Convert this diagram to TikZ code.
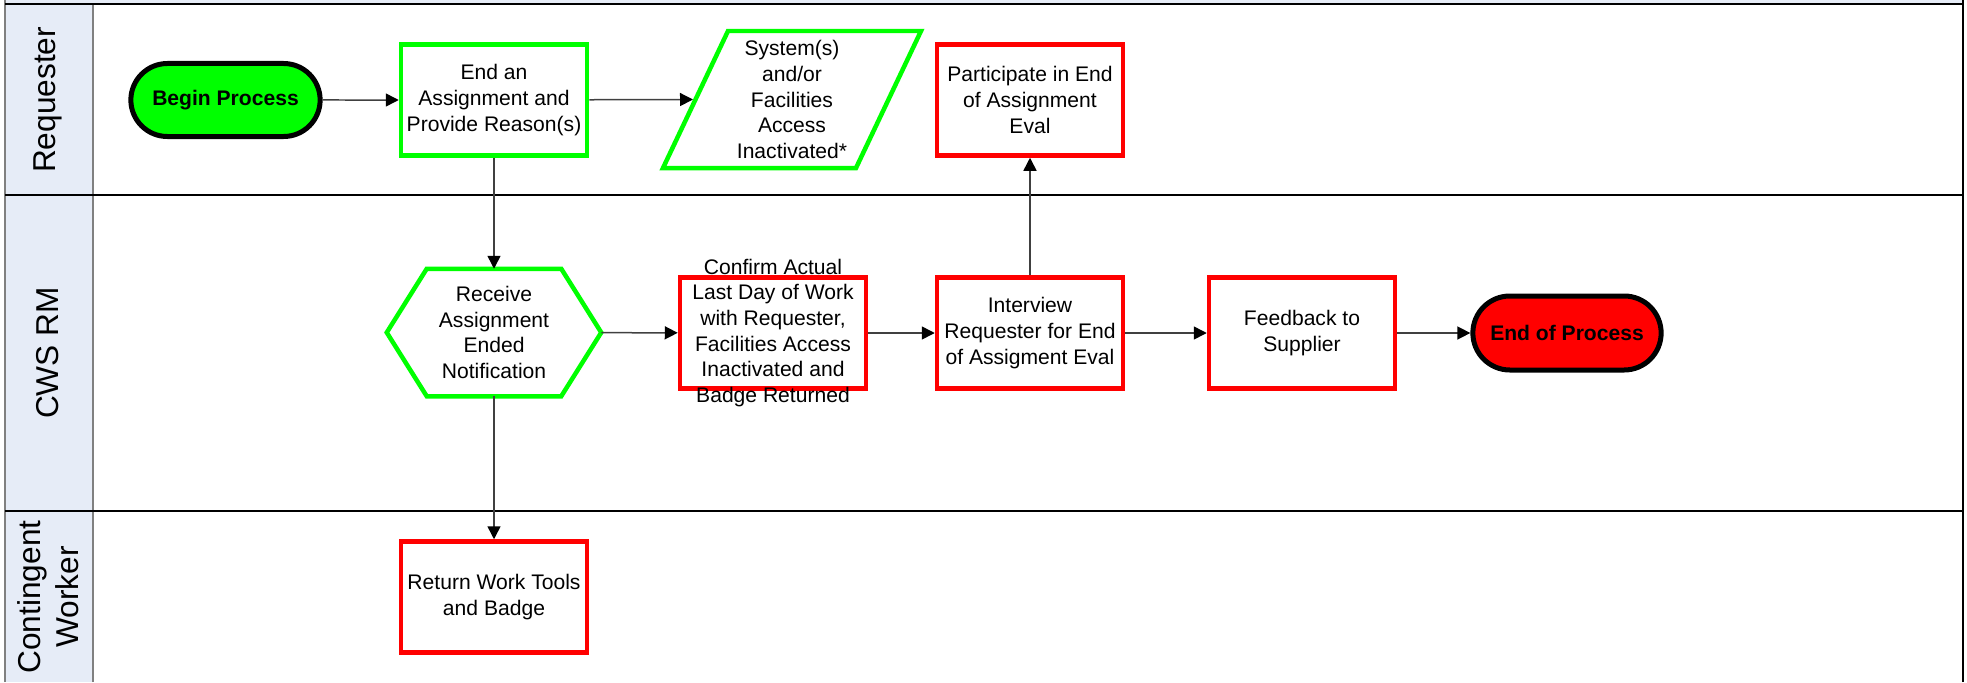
\documentclass[tikz,border=0pt]{standalone}
\usepackage{fontspec}
\setmainfont{Liberation Sans}
\usetikzlibrary{arrows.meta,shapes.misc}

\definecolor{lanefill}{HTML}{E6ECF7}
\definecolor{okgreen}{HTML}{00FF00}
\definecolor{stopred}{HTML}{FF0000}

\begin{document}
\begin{tikzpicture}[
    font=\fontsize{12}{14.6}\selectfont,
    flow/.style={line width=0.03cm, color=black!75, -{Triangle[length=0.26cm, width=0.26cm, black]}},
    greenbox/.style={rectangle, draw=okgreen, line width=0.09cm, fill=white,
      minimum width=3.72cm, minimum height=2.22cm, align=center, inner sep=1pt},
    redbox/.style={greenbox, draw=stopred},
    terminal/.style={rounded rectangle, draw=black, line width=0.1cm,
      minimum width=4.02cm, minimum height=1.46cm, font=\fontsize{12}{14.6}\selectfont\bfseries},
    shapetext/.style={rectangle, align=center, inner sep=0pt, outer sep=0.045cm},
    lanelabel/.style={rotate=90, align=center, font=\fontsize{18}{21.6}\selectfont}
  ]
  \useasboundingbox (0,0) rectangle (39.34,13.64);

  % lanes
  \fill[lanefill] (0.1,0) rectangle (1.86,13.56);
  \fill[lanefill] (0.1,13.56) rectangle (39.26,13.64);
  \draw[gray, line width=0.04cm] (0.1,0) -- (0.1,13.64);
  \draw[gray, line width=0.04cm] (1.86,0) -- (1.86,13.56);
  \draw[line width=0.04cm] (0.1,13.56) -- (39.26,13.56);
  \draw[line width=0.05cm] (39.26,0) -- (39.26,13.64);
  \foreach \y in {9.74, 3.42} {
    \draw[line width=0.03cm] (0.1,\y) -- (39.26,\y);
  }
  \node[lanelabel] (lreq) at (0.96,11.64) {Requester};
  \node[lanelabel] (lcws) at (0.96,6.58) {CWS RM};
  \node[lanelabel] (lcw) at (0.96,1.7) {Contingent\\Worker};

  % requester lane
  \node[terminal, fill=okgreen] (begin) at (4.51,11.64) {Begin Process};
  \node[greenbox] (assign) at (9.88,11.64) {End an\\Assignment and\\Provide Reason(s)};
  \node[shapetext, minimum width=5.07cm, minimum height=2.65cm] (inact) at (15.84,11.65)
    {System(s)\\and/or\\Facilities\\Access\\Inactivated*};
  \draw[okgreen, line width=0.09cm] (inact.south west) -- ([xshift=1.3cm]inact.north west)
    -- (inact.north east) -- ([xshift=-1.3cm]inact.south east) -- cycle;
  \node[redbox] (particip) at (20.6,11.64) {Participate in End\\of Assignment\\Eval};

  % cws rm lane
  \node[shapetext, minimum width=4.2cm, minimum height=2.46cm] (recv) at (9.88,6.99)
    {Receive\\Assignment\\Ended\\Notification};
  \draw[okgreen, line width=0.09cm] (recv.west) -- ([xshift=0.8cm]recv.north west)
    -- ([xshift=-0.8cm]recv.north east) -- (recv.east)
    -- ([xshift=-0.8cm]recv.south east) -- ([xshift=0.8cm]recv.south west) -- cycle;
  \node[redbox, label={[align=center]center:{Confirm Actual\\Last Day of Work\\with Requester,\\Facilities Access\\Inactivated and\\Badge Returned}}]
    (confirm) at (15.46,6.98) {};
  \node[redbox] (interview) at (20.6,6.98) {Interview\\Requester for End\\of Assigment Eval};
  \node[redbox] (feedback) at (26.04,6.98) {Feedback to\\Supplier};
  \node[terminal, fill=stopred, minimum width=4.0cm, minimum height=1.48cm] (endp) at (31.34,6.98) {End of Process};

  % contingent worker lane
  \node[redbox] (ret) at (9.88,1.7) {Return Work Tools\\and Badge};

  % connectors
  \draw[flow] (begin) -- (assign);
  \draw[flow] (assign) -- ([xshift=0.6cm]inact.west);
  \draw[flow] (assign) -- (recv);
  \draw[flow] (recv) -- (ret);
  \draw[flow] (recv) -- (confirm);
  \draw[flow] (confirm) -- (interview);
  \draw[flow] (interview) -- (particip);
  \draw[flow] (interview) -- (feedback);
  \draw[flow] (feedback) -- (endp);
\end{tikzpicture}
\end{document}
